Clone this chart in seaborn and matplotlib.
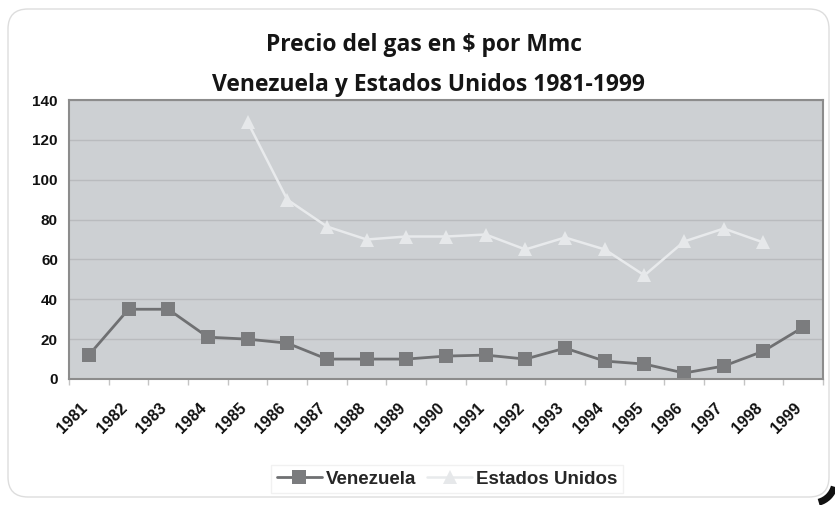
import numpy as np
import pandas as pd
import matplotlib
matplotlib.use("Agg")
import matplotlib.pyplot as plt
from matplotlib.patches import FancyBboxPatch, Arc
from matplotlib.transforms import IdentityTransform, ScaledTranslation
import seaborn as sns

years = list(range(1981, 2000))
venezuela = [12, 35, 35, 21, 20, 18, 10, 10, 10, 11.5, 12, 10, 15.5, 9, 7.5, 3, 6.5, 14, 26]
estados_unidos = [np.nan, np.nan, np.nan, np.nan, 129, 90, 76.5, 70, 71.5, 71.5, 72.5, 65,
                  71, 65, 52, 69, 75.5, 68.5, np.nan]
yticks = [0, 20, 40, 60, 80, 100, 120, 140]

df_ve = pd.DataFrame({"Año": years, "Precio": venezuela})
df_us = pd.DataFrame({"Año": years, "Precio": estados_unidos}).dropna()

sns.set_theme(style="white")
plt.rcParams["font.family"] = ["Liberation Sans", "DejaVu Sans"]

W, H = 835, 505
fig = plt.figure(figsize=(W / 100, H / 100), dpi=100)

# rounded chart-area frame (pixel geometry), with a dark shadow at the lower-right corner
fx0, fy0, fx1, fy1, rad = 8, 9, 829, 497, 20
frame = FancyBboxPatch((fx0, H - fy1), fx1 - fx0, fy1 - fy0,
                       boxstyle=f"round,pad=0,rounding_size={rad}",
                       transform=IdentityTransform(), facecolor="white", edgecolor="#dddddd",
                       linewidth=1.0, zorder=0.5)
corner = Arc((fx1 - rad + 4, H - (fy1 - rad + 4)), 2 * rad + 4, 2 * rad + 4,
             theta1=285, theta2=345, transform=IdentityTransform(),
             color="#111111", linewidth=5, zorder=0.4)
fig.patches.extend([corner, frame])

ax = fig.add_axes([69 / W, 1 - 379 / H, (823 - 69) / W, (379 - 100) / H])
ax.set_facecolor("#cdd0d3")
ax.set_zorder(2)

sns.lineplot(data=df_ve, x="Año", y="Precio", ax=ax, color="#6f7072", linewidth=2.0,
             marker="s", markersize=10, markeredgewidth=0, markerfacecolor="#7b7c7e",
             label="Venezuela")
sns.lineplot(data=df_us, x="Año", y="Precio", ax=ax, color="#e8eaec", linewidth=1.8,
             marker="^", markersize=10, markeredgewidth=0, markerfacecolor="#e6e8ea",
             label="Estados Unidos")

ax.set_xlim(1980.5, 1999.5)
ax.set_ylim(0, 140)
ax.set_yticks(yticks)
ax.set_yticklabels([str(v) for v in yticks], fontsize=11, fontweight="bold", color="#111111")
ax.set_xticks(years)
ax.set_xticklabels([str(y) for y in years], rotation=45, ha="right", rotation_mode="anchor",
                   fontsize=11.5, fontweight="bold", color="#111111")
ax.set_xticks(np.arange(1980.5, 1999.6, 1.0), minor=True)
ax.tick_params(axis="x", which="major", length=0, pad=6)
ax.tick_params(axis="x", which="minor", length=4, color="#c4c4c4", direction="out", bottom=True)
ax.tick_params(axis="y", length=0, pad=8)
ax.set_xlabel("")
ax.set_ylabel("")

# nudge the slanted year labels down and slightly left of their category
shift = ScaledTranslation(-9 / 100, -13 / 100, fig.dpi_scale_trans)
for lbl in ax.get_xticklabels():
    lbl.set_transform(lbl.get_transform() + shift)

ax.grid(axis="y", color="#b9bbbe", linewidth=1.0)
ax.grid(axis="x", visible=False)
ax.set_axisbelow(True)
for s in ax.spines.values():
    s.set_color("#8c8c8c")
    s.set_linewidth(1.5)

title_font = ["Open Sans", "DejaVu Sans"]
fig.text(424 / W, 1 - 45 / H, "Precio del gas en $ por Mmc", ha="center", va="center",
         fontsize=16.5, fontweight="bold", family=title_font, color="#151515")
fig.text(428 / W, 1 - 85 / H, "Venezuela y Estados Unidos 1981-1999", ha="center", va="center",
         fontsize=16.5, fontweight="bold", family=title_font, color="#151515")

ax.get_legend().remove()
handles, labels = ax.get_legend_handles_labels()
leg = fig.legend(handles, labels, loc="center", bbox_to_anchor=(447 / W, 1 - 479 / H), ncol=2,
                 frameon=True, fancybox=False, edgecolor="#eeeeee", handlelength=2.4,
                 handletextpad=0.2, columnspacing=0.6, borderpad=0.3,
                 prop={"weight": "bold", "size": 13.5})
leg.get_frame().set_linewidth(1.0)

fig.savefig("out.png", dpi=100)
